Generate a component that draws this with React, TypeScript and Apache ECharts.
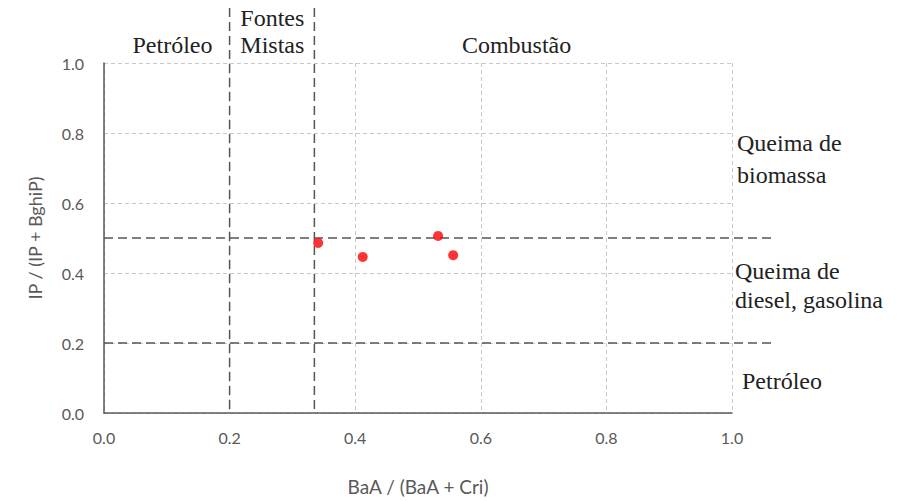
import React, { useEffect, useRef } from "react";
import * as echarts from "echarts";

// Diagnostic ratios: BaA/(BaA+Cri) vs IP/(IP+BghiP)
const baaRatio = [0.341, 0.412, 0.532, 0.556];
const ipRatio = [0.486, 0.446, 0.506, 0.451];

// Source-boundary thresholds
const xThresholds = [0.2, 0.335];
const yThresholds = [0.5, 0.2];

const xTicks = [0, 0.2, 0.4, 0.6, 0.8, 1.0];
const yTicks = [0, 0.2, 0.4, 0.6, 0.8, 1.0];

const zoneTop = [
  { text: "Petróleo", x: 0.109 },
  { text: "Fontes\nMistas", x: 0.268 },
  { text: "Combustão", x: 0.657 },
];
const zoneRight = [
  { text: "Queima de\nbiomassa", y: 0.726, dx: 5, lh: 32 },
  { text: "Queima de\ndiesel, gasolina", y: 0.364, dx: 3, lh: 29 },
  { text: "Petróleo", y: 0.091, dx: 10, lh: 29 },
];

const serif = "'Liberation Serif', 'Times New Roman', serif";
const sans = "Lato, 'Open Sans', sans-serif";

export default function App() {
  const ref = useRef<HTMLDivElement>(null);
  useEffect(() => {
    const chart = echarts.init(ref.current!, null, { renderer: "svg" });
    const labelColor = "#595959";
    chart.setOption({
      animation: false,
      backgroundColor: "#ffffff",
      grid: { left: 104, right: 169, top: 63, bottom: 88 },
      xAxis: {
        type: "value",
        min: 0,
        max: 1,
        interval: 0.2,
        name: "BaA / (BaA + Cri)",
        nameLocation: "middle",
        nameGap: 64,
        nameTextStyle: { color: labelColor, fontFamily: sans, fontSize: 19 },
        axisLine: { show: true, onZero: false, lineStyle: { color: "#595959", width: 1.5 } },
        axisTick: { show: false },
        axisLabel: {
          color: labelColor,
          fontFamily: sans,
          fontSize: 16,
          margin: 16,
          formatter: (v: number) => (xTicks.includes(Number(v.toFixed(1))) ? v.toFixed(1) : ""),
        },
        splitLine: { show: true, lineStyle: { color: "#c8c8c8", type: [4, 3], width: 1 } },
      },
      yAxis: {
        type: "value",
        min: 0,
        max: 1,
        interval: 0.2,
        name: "IP / (IP + BghiP)",
        nameLocation: "middle",
        nameGap: 60,
        nameTextStyle: { color: labelColor, fontFamily: sans, fontSize: 18 },
        axisLine: { show: true, onZero: false, lineStyle: { color: "#595959", width: 1.5 } },
        axisTick: { show: false },
        axisLabel: {
          color: labelColor,
          fontFamily: sans,
          fontSize: 16,
          margin: 20,
          formatter: (v: number) => (yTicks.includes(Number(v.toFixed(1))) ? v.toFixed(1) : ""),
        },
        splitLine: { show: true, lineStyle: { color: "#c8c8c8", type: [4, 3], width: 1 } },
      },
      series: [
        {
          type: "scatter",
          data: baaRatio.map((x, i) => [x, ipRatio[i]]),
          symbolSize: 10,
          itemStyle: { color: "#ff0000" },
          z: 5,
        },
      ],
    });

    const px = (x: number, y: number) => chart.convertToPixel({ gridIndex: 0 }, [x, y]) as number[];
    const dash = { stroke: "#555555", lineWidth: 1.5, lineDash: [9, 5] };
    const graphics: any[] = [];
    xThresholds.forEach((t) => {
      const a = px(t, 0);
      graphics.push({
        type: "line",
        shape: { x1: a[0], y1: 8, x2: a[0], y2: a[1] },
        style: dash,
        z: 3,
      });
    });
    yThresholds.forEach((t) => {
      const a = px(0, t);
      graphics.push({
        type: "line",
        shape: { x1: a[0], y1: a[1], x2: a[0] + 669, y2: a[1] },
        style: dash,
        z: 3,
      });
    });
    const top = px(0, 1);
    zoneTop.forEach((z) => {
      const p = px(z.x, 1);
      graphics.push({
        type: "text",
        x: p[0],
        y: top[1] - 5,
        style: {
          text: z.text,
          font: `24px ${serif}`,
          fill: "#222222",
          align: "center",
          verticalAlign: "bottom",
          lineHeight: 27,
        },
      });
    });
    zoneRight.forEach((z) => {
      const p = px(1, z.y);
      graphics.push({
        type: "text",
        x: p[0] + z.dx,
        y: p[1],
        style: {
          text: z.text,
          font: `24px ${serif}`,
          fill: "#222222",
          align: "left",
          verticalAlign: "middle",
          lineHeight: z.lh,
        },
      });
    });
    chart.setOption({ graphic: graphics });

    return () => chart.dispose();
  }, []);
  return (
    <div
      ref={ref}
      style={{ position: "fixed", left: 0, top: 0, width: 901, height: 501 }}
    />
  );
}
